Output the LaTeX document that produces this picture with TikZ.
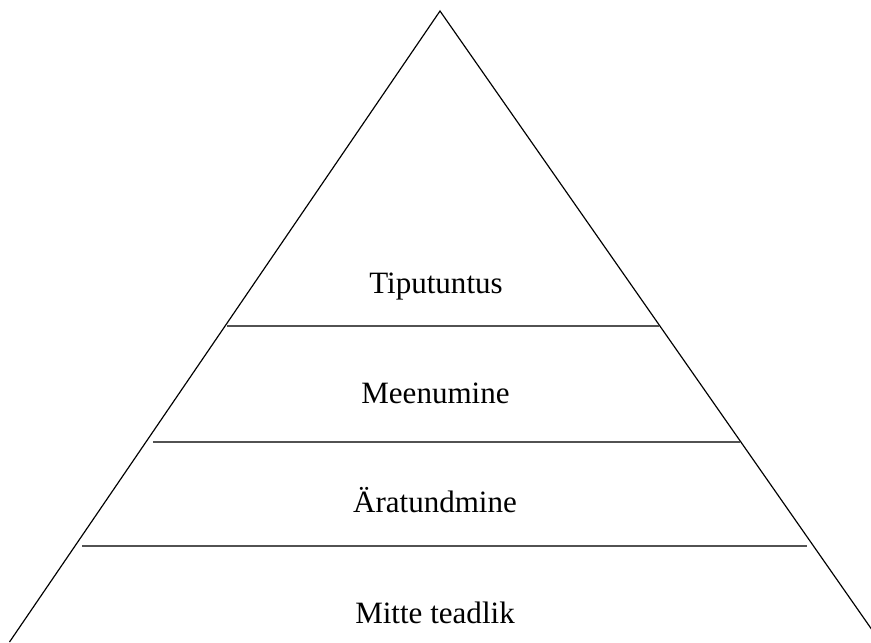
\documentclass[tikz,border=0pt]{standalone}
\usepackage{fontspec}
\setmainfont{Liberation Serif}
\usepackage{tikz}

\begin{document}
\begin{tikzpicture}[x=0.03cm,y=-0.03cm]

  \tikzset{level/.style = {anchor=base,font=\fontsize{26.5}{30}\selectfont}}
  \tikzset{side/.style = {draw=black,line width=1pt}}
  \tikzset{split/.style = {draw=black!68,line width=1.7pt}}
  \useasboundingbox (0,0) rectangle (871,642);
  \clip (0,0) rectangle (871,642);
  % corners
  \coordinate (apex) at (440,11);
  \coordinate (bl) at (9.5,642);
  \coordinate (br) at (880.5,642);
  % levels
  \node[level] (tip) at (436,293) {Tiputuntus};
  \node[level] (mee) at (435.5,403) {Meenumine};
  \node[level] (ara) at (435,512) {Äratundmine};
  \node[level] (mit) at (435,623) {Mitte teadlik};
  % pyramid
  \draw[side] (bl) -- (apex) -- (br);
  \draw[split] (227,325.5) -- (659,325.5);
  \draw[split] (153,442) -- (740,442);
  \draw[split] (82,546) -- (807,546);
\end{tikzpicture}
\end{document}
